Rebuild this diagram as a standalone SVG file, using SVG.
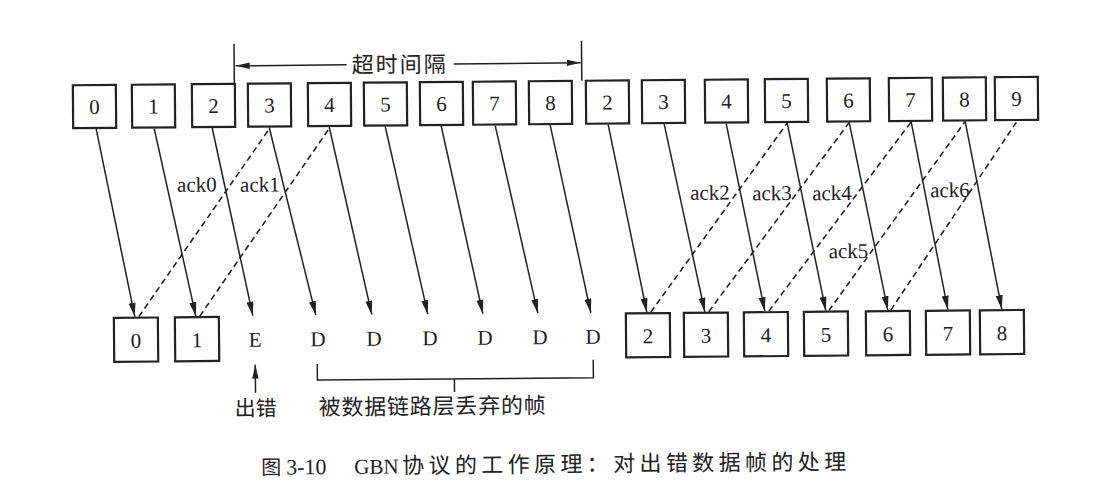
<svg xmlns="http://www.w3.org/2000/svg" width="1097" height="488" viewBox="0 0 1097 488">
<defs>
<marker id="ah" markerUnits="userSpaceOnUse" markerWidth="15" markerHeight="8" refX="14" refY="3.5" orient="auto">
<path d="M0,0 L14,3.5 L0,7 Z" fill="#222"/>
</marker>
<marker id="ah2" markerUnits="userSpaceOnUse" markerWidth="15" markerHeight="8" refX="14" refY="3.5" orient="auto">
<path d="M0,0.3 L14,3.5 L0,6.7 Z" fill="#222"/>
</marker>
</defs>
<style>
.box{fill:#fff;stroke:#222;stroke-width:2.2}
.num{font-family:"Liberation Serif","Times New Roman",serif;font-size:21px;fill:#222;text-anchor:middle}
.ln{stroke:#222;stroke-width:1.5;fill:none;marker-end:url(#ah)}
.dash{stroke:#222;stroke-width:1.6;stroke-dasharray:6 4;fill:none}
.plain{stroke:#222;stroke-width:1.5;fill:none}
.ack{font-family:"Liberation Serif","Times New Roman",serif;font-size:21px;fill:#222;text-anchor:end}
.cjk{font-family:"Liberation Serif","Noto Sans CJK SC",serif;fill:#222}
</style>
<rect width="1097" height="488" fill="#fff"/>
<g transform="rotate(-0.5 100 220)">
<!-- sender frames (top row) -->
<g id="s0"><rect class="box" x="74" y="85" width="43" height="43"/><text class="num" x="95.5" y="114">0</text></g>
<g id="s1"><rect class="box" x="133" y="85" width="43" height="43"/><text class="num" x="154.5" y="114">1</text></g>
<g id="s2"><rect class="box" x="193" y="85" width="43" height="43"/><text class="num" x="214.5" y="114">2</text></g>
<g id="s3"><rect class="box" x="249" y="85" width="43" height="43"/><text class="num" x="270.5" y="114">3</text></g>
<g id="s4"><rect class="box" x="309" y="85" width="43" height="43"/><text class="num" x="330.5" y="114">4</text></g>
<g id="s5"><rect class="box" x="365" y="85" width="43" height="43"/><text class="num" x="386.5" y="114">5</text></g>
<g id="s6"><rect class="box" x="421" y="85" width="43" height="43"/><text class="num" x="442.5" y="114">6</text></g>
<g id="s7"><rect class="box" x="474" y="85" width="43" height="43"/><text class="num" x="495.5" y="114">7</text></g>
<g id="s8"><rect class="box" x="530" y="85" width="43" height="43"/><text class="num" x="551.5" y="114">8</text></g>
<g id="s2r"><rect class="box" x="587" y="85" width="43" height="43"/><text class="num" x="608.5" y="114">2</text></g>
<g id="s3r"><rect class="box" x="643" y="85" width="43" height="43"/><text class="num" x="664.5" y="114">3</text></g>
<g id="s4r"><rect class="box" x="706" y="85" width="43" height="43"/><text class="num" x="727.5" y="114">4</text></g>
<g id="s5r"><rect class="box" x="766" y="85" width="43" height="43"/><text class="num" x="787.5" y="114">5</text></g>
<g id="s6r"><rect class="box" x="828" y="85" width="43" height="43"/><text class="num" x="849.5" y="114">6</text></g>
<g id="s7r"><rect class="box" x="890" y="85" width="43" height="43"/><text class="num" x="911.5" y="114">7</text></g>
<g id="s8r"><rect class="box" x="944" y="85" width="43" height="43"/><text class="num" x="965.5" y="114">8</text></g>
<g id="s9r"><rect class="box" x="996" y="85" width="43" height="43"/><text class="num" x="1017.5" y="114">9</text></g>

<!-- receiver (bottom row) -->
<g id="r0"><rect class="box" x="113" y="318" width="44" height="44"/><text class="num" x="135" y="348">0</text></g>
<g id="r1"><rect class="box" x="174" y="318" width="44" height="44"/><text class="num" x="196" y="348">1</text></g>
<g id="rE"><text class="num" x="254" y="348">E</text></g>
<g id="rD1"><text class="num" x="317" y="348">D</text></g>
<g id="rD2"><text class="num" x="373" y="348">D</text></g>
<g id="rD3"><text class="num" x="429" y="348">D</text></g>
<g id="rD4"><text class="num" x="484" y="348">D</text></g>
<g id="rD5"><text class="num" x="539" y="348">D</text></g>
<g id="rD6"><text class="num" x="592" y="348">D</text></g>
<g id="r2"><rect class="box" x="625" y="318" width="44" height="44"/><text class="num" x="647" y="348">2</text></g>
<g id="r3"><rect class="box" x="683" y="318" width="44" height="44"/><text class="num" x="705" y="348">3</text></g>
<g id="r4"><rect class="box" x="743" y="318" width="44" height="44"/><text class="num" x="765" y="348">4</text></g>
<g id="r5"><rect class="box" x="803" y="318" width="44" height="44"/><text class="num" x="825" y="348">5</text></g>
<g id="r6"><rect class="box" x="865" y="318" width="44" height="44"/><text class="num" x="887" y="348">6</text></g>
<g id="r7"><rect class="box" x="925" y="318" width="44" height="44"/><text class="num" x="947" y="348">7</text></g>
<g id="r8"><rect class="box" x="979" y="318" width="44" height="44"/><text class="num" x="1001" y="348">8</text></g>

<!-- connectors -->
<g id="connectors">
<line class="ln" x1="97" y1="129" x2="134" y2="317"/>
<line class="ln" x1="155" y1="129" x2="195" y2="317"/>
<line class="ln" x1="213" y1="129" x2="252" y2="317"/>
<line class="ln" x1="270" y1="129" x2="315" y2="317"/>
<line class="ln" x1="330" y1="129" x2="371" y2="317"/>
<line class="ln" x1="386" y1="129" x2="427" y2="317"/>
<line class="ln" x1="442" y1="129" x2="482" y2="317"/>
<line class="ln" x1="496" y1="129" x2="537" y2="317"/>
<line class="ln" x1="551" y1="129" x2="590" y2="317"/>
<line class="ln" x1="609" y1="129" x2="646" y2="317"/>
<line class="ln" x1="665" y1="129" x2="704" y2="317"/>
<line class="ln" x1="727" y1="129" x2="764" y2="317"/>
<line class="ln" x1="788" y1="129" x2="825" y2="317"/>
<line class="ln" x1="850" y1="129" x2="887" y2="317"/>
<line class="ln" x1="912" y1="129" x2="947" y2="317"/>
<line class="ln" x1="966" y1="129" x2="1001" y2="317"/>

<line class="dash" x1="138" y1="317" x2="271" y2="129"/>
<line class="dash" x1="199" y1="317" x2="331" y2="129"/>
<line class="dash" x1="650" y1="317" x2="788" y2="129"/>
<line class="dash" x1="708" y1="317" x2="850" y2="129"/>
<line class="dash" x1="768" y1="317" x2="912" y2="129"/>
<line class="dash" x1="828" y1="317" x2="966" y2="129"/>
<line class="dash" x1="890" y1="317" x2="1018" y2="129"/>

<!-- timeout interval -->
<line class="plain" x1="235.5" y1="45" x2="235.5" y2="86"/>
<line class="plain" x1="583" y1="45" x2="583" y2="85"/>
<line class="plain" x1="348" y1="67" x2="237" y2="67" style="marker-end:url(#ah2)"/>
<line class="plain" x1="455" y1="67" x2="582" y2="67" style="marker-end:url(#ah2)"/>

<!-- error marker and discard bracket -->
<line class="plain" x1="254" y1="394" x2="254" y2="366" style="marker-end:url(#ah2)"/>
<path class="plain" d="M316,366 V382 H592 V364 M453,382 V395"/>
</g>

<!-- labels -->
<text class="ack" x="217" y="192.5">ack0</text>
<text class="ack" x="280" y="193">ack1</text>
<text class="ack" x="730" y="205">ack2</text>
<text class="ack" x="792" y="206">ack3</text>
<text class="ack" x="852" y="206.5">ack4</text>
<text class="ack" x="868" y="264.5">ack5</text>
<text class="ack" x="970" y="204.5">ack6</text>

<text class="cjk" x="353" y="75" font-size="22" textLength="94" lengthAdjust="spacing">超时间隔</text>
<text class="cjk" x="233" y="417" font-size="21" textLength="42" lengthAdjust="spacing">出错</text>
<text class="cjk" x="317" y="417" font-size="22" textLength="227" lengthAdjust="spacing">被数据链路层丢弃的帧</text>

<text class="cjk" x="259" y="476" font-size="20">图</text>
<text class="cjk" x="284" y="476" font-size="22">3-10</text>
<text class="cjk" x="352" y="476" font-size="21">GBN</text>
<text class="cjk" x="400" y="476" font-size="22" textLength="444" lengthAdjust="spacing">协议的工作原理：对出错数据帧的处理</text>
</g>
</svg>
